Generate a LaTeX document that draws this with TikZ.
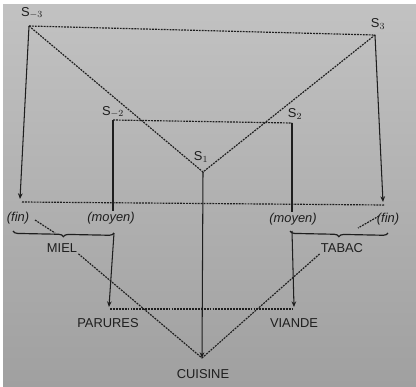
\documentclass[tikz,border=0pt]{standalone}
\usepackage{fontspec}
\setmainfont{Liberation Sans}
\usetikzlibrary{arrows.meta,positioning,decorations.pathreplacing}
\definecolor{lsInk}{HTML}{1E1E1E}
\definecolor{lsPaperTop}{HTML}{C2C2C2}
\definecolor{lsPaperBot}{HTML}{A0A0A0}
\tikzset{
  term/.style    ={font=\fontsize{11}{13}\selectfont,text=lsInk,inner sep=1pt},
  role/.style    ={font=\fontsize{11}{13}\selectfont\itshape,text=lsInk,inner sep=1pt},
  slbl/.style    ={font=\fontsize{11}{13}\selectfont,text=lsInk,inner sep=0.5pt},
  link/.style    ={lsInk,line width=0.9pt},
  flow/.style    ={link,-{Stealth[length=1.7mm,width=1.4mm]}},
  dotline/.style ={lsInk,line width=1pt,dash pattern=on 1.6pt off 0.9pt},
  curly/.style   ={lsInk,line width=1pt,decorate,
                   decoration={brace,mirror,amplitude=4pt}},
}

\begin{document}
\begin{tikzpicture}[x=0.03cm,y=-0.03cm]
\useasboundingbox (0,0) rectangle (416,386);
\fill[white] (0,0) rectangle (416,386);
\shade[top color=lsPaperTop,bottom color=lsPaperBot] (3,4) rectangle (416,386);

%% the five positions
\coordinate (sm3) at (29,26);
\coordinate (sp3) at (375,35);
\coordinate (sm2) at (113,120);
\coordinate (sp2) at (292,123);
\coordinate (sp1) at (203,172);
\node[slbl] (lm3) at (32,13)  {S$_{-3}$};
\node[slbl] (lp3) at (378,24) {S$_{3}$};
\node[slbl] (lm2) at (113,112) {S$_{-2}$};
\node[slbl] (lp2) at (295,114) {S$_{2}$};
\node[slbl] (lp1) at (201,157) {S$_{1}$};

%% ends and corners
\coordinate (finTipL) at (20,199);
\coordinate (finTipR) at (383,202);
\coordinate (rowL) at (22,202);
\coordinate (rowR) at (385,205);
\coordinate (parTip) at (109,307);
\coordinate (viaTip) at (294,307);
\coordinate (cuiTip) at (202,358);
\coordinate (parRow) at (110,309);
\coordinate (viaRow) at (294,309);

%% labels
\node[role] (finL) at (18,218)  {(fin)};
\node[role] (moyL) at (111,218) {(moyen)};
\node[role] (moyR) at (293,219) {(moyen)};
\node[role] (finR) at (388,219) {(fin)};
\node[term] (miel)  at (62,248)  {MIEL};
\node[term] (tabac) at (342,248) {TABAC};
\node[term] (parures) at (108,323) {PARURES};
\node[term] (viande)  at (294,323) {VIANDE};
\node[term] (cuisine) at (203,374) {CUISINE};

%% braces
\coordinate (brL1) at (13,231);
\coordinate (brL2) at (114,233);
\coordinate (brR1) at (290,231);
\coordinate (brR2) at (388,233);
\draw[curly] (brL1) -- (brL2);
\draw[curly] (brR1) -- (brR2);

%% dotted frame
\draw[dotline] (sm3) -- (sp3);
\draw[dotline] (sm3) -- (sp1) -- (sp3);
\draw[dotline] (sm2) -- (sp2);
\draw[dotline] (rowL) -- (rowR);
\draw[dotline] (parRow) -- (viaRow);

%% solid arrows
\draw[flow] (sm3) -- (finTipL);
\draw[flow] (sp3) -- (finTipR);
\draw[flow] (sp1) -- (cuiTip);
\draw[link] (sm2) -- (moyL.north -| sm2);
\draw[flow] (brL2) -- (parTip);
\draw[link] (sp2) -- (moyR.north -| sp2);
\draw[flow] (brR1 -| sp2) -- (viaTip);

%% dotted slants to cuisine
\coordinate (finLx) at (35,220);
\coordinate (brLx) at (55,233);
\coordinate (finRx) at (379,216);
\coordinate (brRx) at (358,228);
\draw[dotline] (finLx) -- (brLx);
\draw[dotline] (miel.south east) -- (cuiTip);
\draw[dotline] (finRx) -- (brRx);
\draw[dotline] (tabac.south west) -- (cuiTip);
\end{tikzpicture}
\end{document}
